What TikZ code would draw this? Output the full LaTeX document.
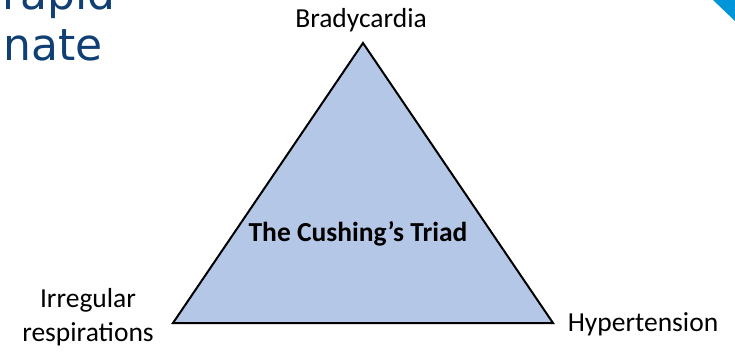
\documentclass[tikz,border=0pt]{standalone}
\usepackage{fontspec}
\setmainfont{Carlito}
\newfontfamily\titlefont{DejaVu Sans}
\definecolor{titleblue}{HTML}{0F3F73}
\definecolor{cornerblue}{HTML}{0095D9}
\definecolor{triadfill}{HTML}{B4C7E7}

\begin{document}
\begin{tikzpicture}[x=1pt,y=1pt,font=\fontsize{27.5}{34}\selectfont]
  \useasboundingbox (0,0) rectangle (735,351);
  \clip (0,0) rectangle (735,351);
  % slide remnants
  \node[text=titleblue,font=\titlefont\fontsize{44}{51}\selectfont,anchor=base west,inner sep=0pt] (rapid) at (2,341) {rapid};
  \node[text=titleblue,font=\titlefont\fontsize{44}{51}\selectfont,anchor=base west,inner sep=0pt] (nate) at (3,290) {nate};
  \fill[cornerblue] (713,351)--(735,351)--(735,330)--cycle;
  % triad
  \coordinate (top) at (363,308);
  \coordinate (left) at (173,28);
  \coordinate (right) at (553,28);
  \draw[fill=triadfill,line width=2pt,line join=miter] (top)--(left)--(right)--cycle;
  \node[font=\bfseries\fontsize{27.5}{34}\selectfont] (triad) at (358,117) {The Cushing’s Triad};
  \node (brady) at (361,331) {Bradycardia};
  \node[align=center] (resp) at (88,34) {Irregular\\respirations};
  \node (hyper) at (643,27) {Hypertension};
\end{tikzpicture}
\end{document}
